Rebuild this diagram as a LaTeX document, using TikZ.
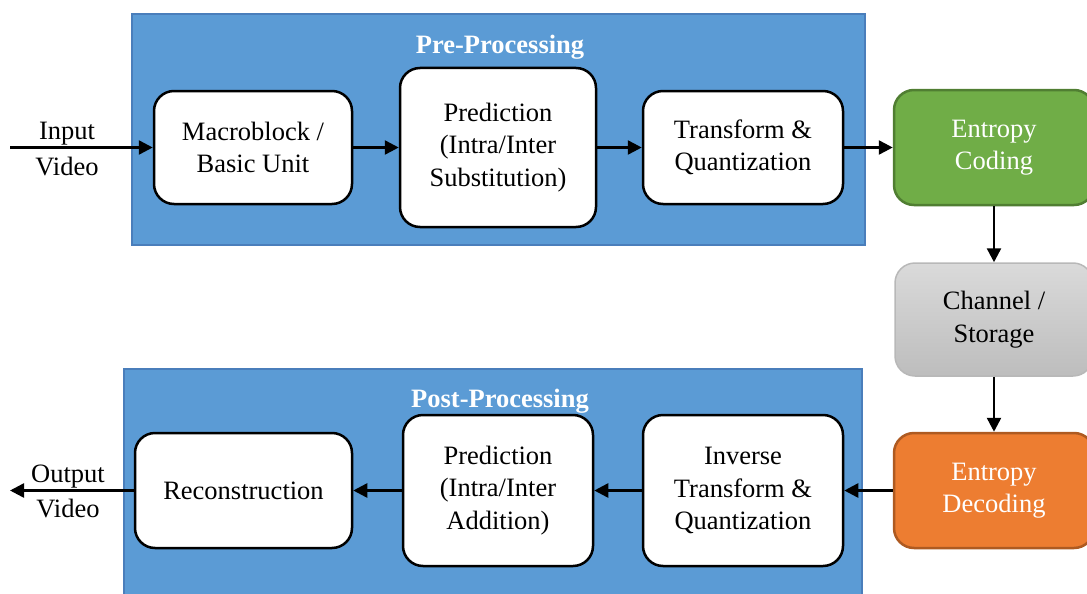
\documentclass[tikz,border=0pt]{standalone}
\usepackage{fontspec}
\setmainfont{Liberation Serif}
\usetikzlibrary{arrows.meta}
\definecolor{procblue}{HTML}{5B9BD5}
\definecolor{procedge}{HTML}{4A7EBB}
\definecolor{codegreen}{HTML}{70AD47}
\definecolor{codegreenedge}{HTML}{507E32}
\definecolor{decorange}{HTML}{ED7D31}
\definecolor{decorangeedge}{HTML}{AE5A21}
\definecolor{chantop}{HTML}{DADADA}
\definecolor{chanbot}{HTML}{BDBDBD}
\definecolor{chanedge}{HTML}{B8B8B8}
\newcommand\diagfont{\fontsize{26.5}{32.5}\selectfont}
\begin{document}
\begin{tikzpicture}[x=1pt,y=-1pt,
  stage/.style={rectangle, draw=procedge, line width=2pt, fill=procblue, inner sep=0pt},
  stagetitle/.style={text=white, font=\diagfont\bfseries},
  blockbox/.style={rectangle, draw=black, line width=2.5pt, fill=white, rounded corners=20pt,
    align=center, font=\diagfont, inner sep=0pt},
  codebox/.style={rectangle, line width=2.5pt, rounded corners=20pt, align=center,
    font=\diagfont, inner sep=0pt, minimum width=200pt, minimum height=115pt},
  label/.style={font=\diagfont, inner sep=0pt},
  flow/.style={-{Triangle[length=14pt,width=14pt]}, line width=2.5pt}]
\useasboundingbox (0,0) rectangle (1087,594);

% processing stages
\node[stage, minimum width=733pt, minimum height=231pt] (pre) at (498.5,129.5) {};
\node[stagetitle] (pretitle) at (500,47) {Pre-Processing};
\node[stage, minimum width=738pt, minimum height=233pt] (post) at (493,485.5) {};
\node[stagetitle] (posttitle) at (500,401) {Post-Processing};

% encoder blocks
\node[blockbox, minimum width=198pt, minimum height=113pt] (mb) at (253,147.5) {Macroblock /\\Basic Unit};
\node[blockbox, minimum width=196pt, minimum height=159pt] (pred) at (498,147.5) {Prediction\\(Intra/Inter\\Substitution)};
\node[blockbox, minimum width=200pt, minimum height=113pt] (tq) at (743,147.5) {Transform \&\\Quantization};
\node[codebox, draw=codegreenedge, fill=codegreen, text=white] (ec) at (994,147.5) {Entropy\\Coding};

% channel
\node[codebox, draw=chanedge, line width=1.5pt, top color=chantop, bottom color=chanbot,
  minimum width=198pt, minimum height=113pt] (ch) at (994,319.5) {Channel /\\Storage};

% decoder blocks
\node[codebox, draw=decorangeedge, fill=decorange, text=white] (ed) at (994,490.5) {Entropy\\Decoding};
\node[blockbox, minimum width=200pt, minimum height=151pt] (itq) at (743,490.5) {Inverse\\Transform \&\\Quantization};
\node[blockbox, minimum width=190pt, minimum height=151pt] (preda) at (498,490.5) {Prediction\\(Intra/Inter\\Addition)};
\node[blockbox, minimum width=217pt, minimum height=115pt] (rec) at (243.5,490.5) {Reconstruction};

% input and output
\coordinate (in) at (10,147.5);
\coordinate (out) at (10,490.5);
\node[label] (inlabel) at (67,134) {Input};
\node[label] (invideo) at (67,167) {Video};
\node[label] (outlabel) at (68,477) {Output};
\node[label] (outvideo) at (68,509) {Video};

% data flow
\draw[flow] (in) -- (mb);
\draw[flow] (mb) -- (pred);
\draw[flow] (pred) -- (tq);
\draw[flow] (tq) -- (ec);
\draw[flow] (ec) -- (ch);
\draw[flow] (ch) -- (ed);
\draw[flow] (ed) -- (itq);
\draw[flow] (itq) -- (preda);
\draw[flow] (preda) -- (rec);
\draw[flow] (rec) -- (out);
\end{tikzpicture}
\end{document}
